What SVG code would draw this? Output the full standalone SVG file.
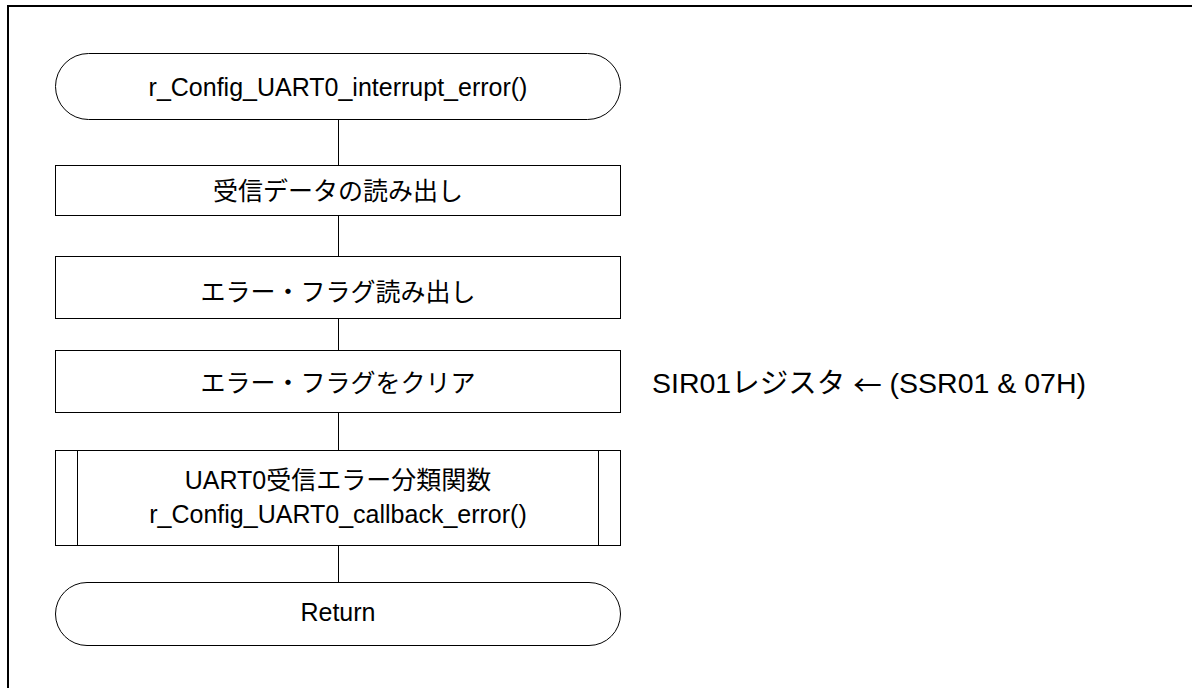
<svg xmlns="http://www.w3.org/2000/svg" width="1192" height="688" viewBox="0 0 1192 688">
<style>
.s{fill:#fff;stroke:#000;stroke-width:1}
.t{font-family:"Liberation Sans","Noto Sans CJK JP",Arial,sans-serif;font-size:25px;fill:#000;text-anchor:middle;dominant-baseline:central}
.a{font-family:"Liberation Sans","Noto Sans CJK JP",Arial,sans-serif;font-size:28.5px;fill:#000;dominant-baseline:central}
.j{font-family:"Noto Sans CJK JP",sans-serif}
.c{stroke:#000;stroke-width:1;fill:none}
</style>
<rect x="0" y="0" width="1192" height="688" fill="#fff"/>
<rect x="8" y="6" width="1200" height="700" fill="none" stroke="#000" stroke-width="2"/>
<g id="connectors">
<line class="c" x1="338.5" y1="120" x2="338.5" y2="165"/>
<line class="c" x1="338.5" y1="215" x2="338.5" y2="256"/>
<line class="c" x1="338.5" y1="318" x2="338.5" y2="350"/>
<line class="c" x1="338.5" y1="412" x2="338.5" y2="450"/>
<line class="c" x1="338.5" y1="545" x2="338.5" y2="582" stroke-width="1.5"/>
</g>
<g id="start">
<rect class="s" x="55.5" y="53.5" width="565" height="66" rx="33" ry="33"/>
<text class="t" x="338" y="87">r_Config_UART0_interrupt_error()</text>
</g>
<g id="read-data">
<rect class="s" x="55.5" y="165.5" width="565" height="50"/>
<text class="t" x="338" y="191">受信データの読み出し</text>
</g>
<g id="read-flag">
<rect class="s" x="55.5" y="256.5" width="565" height="62"/>
<text class="t" x="338" y="292">エラー・フラグ読み出し</text>
</g>
<g id="clear-flag">
<rect class="s" x="55.5" y="350.5" width="565" height="62"/>
<text class="t" x="338" y="383">エラー・フラグをクリア</text>
</g>
<text class="a" x="652" y="383">SIR01レジスタ <tspan class="j">←</tspan> (SSR01 &amp; 07H)</text>
<g id="callback">
<rect class="s" x="55.5" y="450.5" width="565" height="95"/>
<line class="c" x1="77.5" y1="450.5" x2="77.5" y2="545.5"/>
<line class="c" x1="598.5" y1="450.5" x2="598.5" y2="545.5"/>
<text class="t" x="338" y="480">UART0受信エラー分類関数</text>
<text class="t" x="338" y="514">r_Config_UART0_callback_error()</text>
</g>
<g id="return">
<rect class="s" x="55.5" y="582.5" width="565" height="63" rx="31.5" ry="31.5"/>
<text class="t" x="338" y="612">Return</text>
</g>
</svg>
